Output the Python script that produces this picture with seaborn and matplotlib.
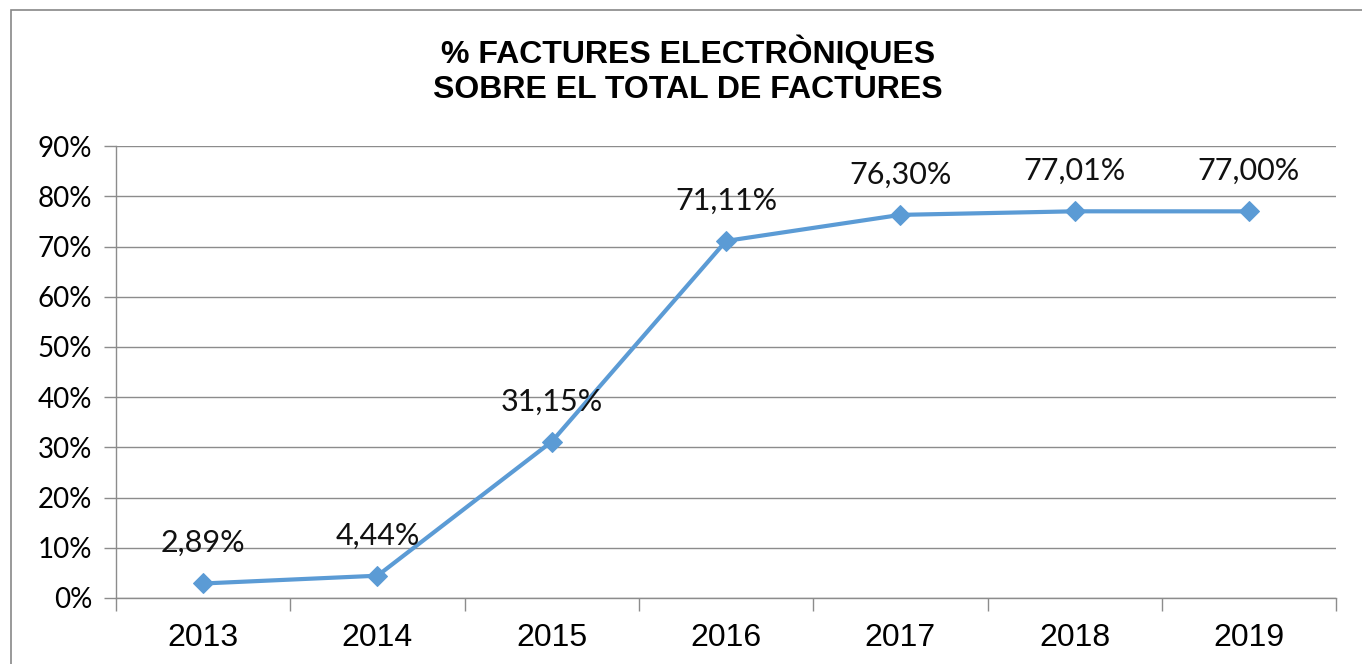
import matplotlib

matplotlib.use("Agg")

import matplotlib.pyplot as plt
import numpy as np
import pandas as pd
import seaborn as sns
from matplotlib.patches import Rectangle
from matplotlib.ticker import FixedLocator, FuncFormatter

years = [2013, 2014, 2015, 2016, 2017, 2018, 2019]
shares = [2.89, 4.44, 31.15, 71.11, 76.30, 77.01, 77.00]
title_lines = ["% FACTURES ELECTRÒNIQUES", "SOBRE EL TOTAL DE FACTURES"]

LINE = "#5B9BD5"
GRID = "#8C8C8C"

sns.set_theme(style="white")
plt.rcParams["font.family"] = ["Liberation Sans", "DejaVu Sans"]
plt.rcParams["text.color"] = "black"
plt.rcParams["xtick.labelcolor"] = "black"
plt.rcParams["ytick.labelcolor"] = "black"

df = pd.DataFrame({"year": years, "share": shares})

fig = plt.figure(figsize=(13.62, 6.64), dpi=100)
ax = fig.add_axes([0.0852, 0.0994, 0.8958, 0.6806])

sns.lineplot(
    data=df, x="year", y="share", ax=ax, color=LINE, linewidth=3,
    marker="D", markersize=10, markeredgecolor=LINE,
)

ax.set_xlim(years[0] - 0.5, years[-1] + 0.5)
ax.set_ylim(0, 90)
ax.set_yticks(np.arange(0, 91, 10))
ax.yaxis.set_major_formatter(FuncFormatter(lambda v, _: f"{v:.0f}%"))
ax.grid(axis="y", color=GRID, linewidth=1)
ax.set_axisbelow(True)

ax.set_xticks(years)
ax.set_xticklabels([str(y) for y in years])
ax.xaxis.set_minor_locator(FixedLocator(np.arange(years[0] - 0.5, years[-1] + 1, 1)))
ax.tick_params(axis="x", which="major", length=0, pad=18, labelsize=23)
ax.tick_params(axis="x", which="minor", length=9, color=GRID, width=1, bottom=True)
ax.tick_params(axis="y", length=9, color=GRID, width=1, left=True, pad=8, labelsize=20)
for lab in ax.get_yticklabels():
    lab.set_family(["Lato", "DejaVu Sans"])

ax.set_xlabel("")
ax.set_ylabel("")
for side in ["top", "right"]:
    ax.spines[side].set_visible(False)
for side in ["left", "bottom"]:
    ax.spines[side].set_color(GRID)
    ax.spines[side].set_linewidth(1)

# data labels above each point, decimal comma
for x, v in zip(years, shares):
    ax.annotate(
        f"{v:.2f}%".replace(".", ","), (x, v), xytext=(0, 29), textcoords="offset points",
        ha="center", va="center", fontsize=22, family=["Lato", "DejaVu Sans"], color="#111111",
    )

fig.text(0.505, 0.921, title_lines[0], ha="center", va="center", fontsize=23, fontweight="bold")
fig.text(0.505, 0.864, title_lines[1], ha="center", va="center", fontsize=23, fontweight="bold")

# chart-area frame, running off the right and bottom edges
fig.patches.append(
    Rectangle((11 / 1362, -0.05), 1.1, 1 - 10 / 664 + 0.05, transform=fig.transFigure,
              fill=False, edgecolor="#878787", linewidth=1.2)
)

fig.savefig("out.png", dpi=100)
